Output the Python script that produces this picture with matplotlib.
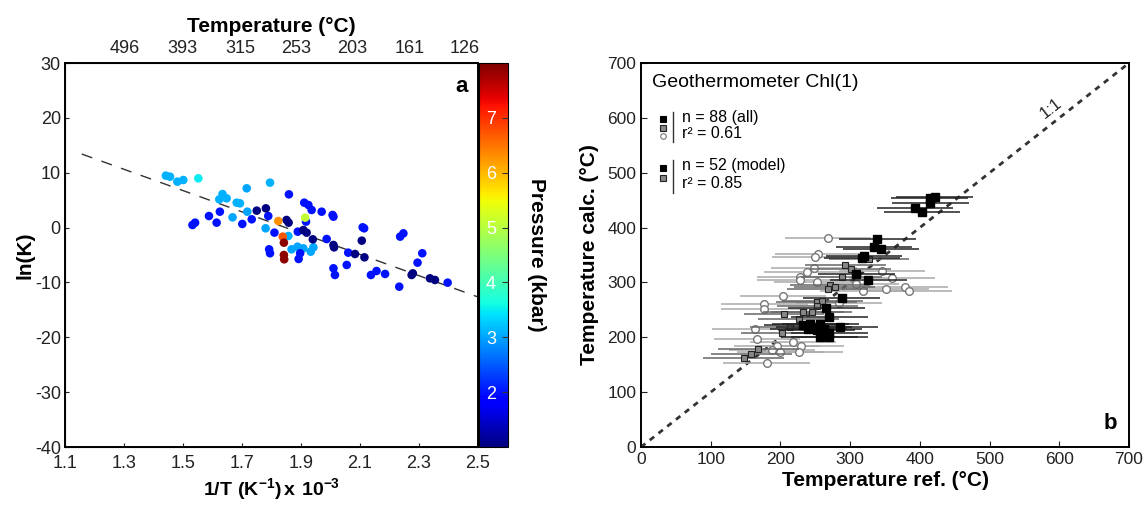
import matplotlib

matplotlib.use("Agg")
import matplotlib.pyplot as plt
import numpy as np

plt.rcParams["font.family"] = ["Liberation Sans", "DejaVu Sans"]
plt.rcParams["axes.unicode_minus"] = False
plt.rcParams["mathtext.fontset"] = "custom"
plt.rcParams["mathtext.rm"] = "Liberation Sans"
plt.rcParams["mathtext.bf"] = "Liberation Sans:bold"

# ---- panel a: ln(K) vs 1/T, coloured by pressure -----------------------------
inv_t = [1.442, 1.456, 1.481, 1.501, 1.552, 1.716, 1.795, 1.634, 1.623, 1.648,
         1.682, 1.693, 1.718, 1.668, 1.780, 1.857, 1.868, 1.888, 1.908, 1.933,
         1.942,
         1.532, 1.541, 1.588, 1.614, 1.625, 1.701, 1.733, 1.789, 1.810, 1.792,
         1.795, 1.859, 1.911, 1.925, 1.936, 1.970, 2.007, 2.010, 1.917, 1.889,
         1.892, 1.897, 1.987, 2.010, 2.015, 2.055, 2.060, 2.109, 2.114, 2.137,
         2.156, 2.185, 2.236, 2.247, 2.233, 2.295, 2.311, 2.397,
         1.750, 1.781, 1.851, 1.858, 1.908, 1.919, 1.940, 2.010, 2.012, 2.083,
         2.106, 2.115, 2.275, 2.279, 2.337, 2.354,
         1.823, 1.838, 1.842, 1.842, 1.843, 1.914]
ln_k = [9.47, 9.28, 8.37, 8.67, 8.98, 7.16, 8.19, 6.12, 5.15, 5.33,
        4.54, 4.42, 2.90, 1.87, -0.13, -1.53, -3.96, -3.48, -3.78, -4.39,
        -3.60,
        0.47, 0.90, 2.11, 0.90, 2.90, 0.66, 1.51, 2.11, -0.92, -3.96,
        -4.68, 6.06, 4.54, 4.12, 3.21, 2.90, 2.30, 1.99, 1.08, -0.74,
        -5.72, -4.68, -2.08, -7.42, -8.64, -6.81, -4.57, 0.05, -0.13, -8.64,
        -7.91, -8.45, -1.65, -1.05, -10.77, -6.39, -4.68, -10.04,
        3.09, 3.51, 1.39, 0.90, -0.44, -0.92, -2.14, -3.17, -3.60, -4.81,
        -2.38, -5.42, -8.64, -8.34, -9.25, -9.55,
        1.20, -1.65, -2.75, -4.99, -5.78, 1.81]
pressure = [3.1, 3.1, 3.1, 3.1, 3.5, 3.0, 3.1, 3.1, 3.1, 3.1,
            3.1, 3.1, 3.0, 3.0, 3.0, 3.1, 3.0, 3.0, 3.0, 3.0,
            3.0,
            2.0, 2.0, 2.0, 2.0, 2.0, 2.0, 2.0, 2.0, 2.0, 2.0,
            2.0, 2.0, 2.0, 2.0, 2.0, 2.0, 2.0, 2.0, 2.0, 2.0,
            2.0, 2.0, 2.0, 2.0, 2.0, 2.0, 2.0, 2.0, 2.0, 2.0,
            2.0, 2.0, 2.0, 2.0, 2.0, 2.0, 2.0, 2.0,
            1.0, 1.0, 1.0, 1.0, 1.0, 1.0, 1.0, 1.0, 1.0, 1.0,
            1.0, 1.0, 1.0, 1.0, 1.0, 1.0,
            6.3, 6.7, 7.9, 7.9, 7.9, 5.1]
fit_intercept, fit_slope = 35.85, -19.4
top_ticks = [1.303, 1.499, 1.693, 1.885, 2.075, 2.27, 2.456]
top_labels = ["496", "393", "315", "253", "203", "161", "126"]

# ---- panel b: calculated vs reference temperature ---------------------------
black_ref = [414, 421, 415, 393, 403, 339, 334, 344, 320, 317, 309, 326, 288,
             266, 270, 257, 243, 248, 252, 262, 285, 256, 270, 270, 240, 232]
black_calc = [454, 456, 444, 436, 429, 379, 365, 361, 348, 345, 316, 304, 272,
              253, 237, 224, 224, 219, 214, 216, 219, 201, 207, 201, 216, 222]
gray_ref = [327, 293, 301, 288, 271, 278, 268, 252, 260, 253, 233, 245, 226,
            214, 202, 168, 158, 147, 205]
gray_calc = [342, 332, 324, 310, 295, 292, 288, 265, 267, 257, 247, 247, 233,
             218, 207, 179, 169, 162, 243]
open_ref = [268, 254, 250, 248, 238, 228, 228, 253, 346, 360, 319, 351, 379,
            384, 204, 177, 177, 164, 166, 218, 229, 227, 195, 188, 200, 180,
            308, 284]
open_calc = [381, 352, 346, 327, 319, 310, 305, 301, 321, 309, 285, 288, 291,
             285, 275, 261, 251, 215, 197, 192, 185, 174, 184, 177, 174, 154,
             297, 263]
black_err, gray_err, open_err = 55, 58, 62

fig = plt.figure(figsize=(11.48, 5.07), dpi=100)
axA = fig.add_axes([0.0566, 0.1183, 0.3598, 0.7574])
cax = fig.add_axes([0.4173, 0.1183, 0.0253, 0.7574])
axB = fig.add_axes([0.5584, 0.1183, 0.4251, 0.7574])

# ---- A ---------------------------------------------------------------------
sc = axA.scatter(inv_t, ln_k, c=pressure, cmap="jet", vmin=1, vmax=8, s=38,
                 edgecolors="none", zorder=3)
xl = np.array([1.157, 2.5])
axA.plot(xl, fit_intercept + fit_slope * xl, color="#333333", lw=1,
         dashes=(8, 7), zorder=2)
axA.set_xlim(1.1, 2.5)
axA.set_ylim(-40, 30)
axA.set_xticks(np.arange(1.1, 2.51, 0.2))
axA.set_xticklabels([f"{v:.1f}" for v in np.arange(1.1, 2.51, 0.2)])
axA.set_yticks(range(-40, 31, 10))
axA.tick_params(direction="in", length=3, labelsize=13, colors="#222222")
axA.tick_params(axis="x", pad=6)
axA.tick_params(axis="y", pad=3)
for sp in axA.spines.values():
    sp.set_linewidth(1.4)
axA.set_xlabel(r"$\mathbf{1/T\ (K^{-1})\,x\ 10^{-3}}$", fontsize=14,
               labelpad=3)
axA.set_ylabel("ln(K)", fontsize=15, fontweight="bold", labelpad=0)
axA.text(0.975, 0.965, "a", transform=axA.transAxes, ha="right", va="top",
         fontsize=16, fontweight="bold")

top = axA.twiny()
top.set_xlim(axA.get_xlim())
top.set_xticks(top_ticks)
top.set_xticklabels(top_labels)
top.tick_params(length=0, labelsize=13, colors="#222222", pad=4)
top.set_xlabel("Temperature (°C)", fontsize=15, fontweight="bold", labelpad=6)

cb = fig.colorbar(sc, cax=cax, ticks=[2, 3, 4, 5, 6, 7])
cb.outline.set_linewidth(0.8)
cax.tick_params(direction="in", length=4, width=0.8, labelsize=13,
                labelcolor="white", pad=-16, color="#333333")
for lab in cax.get_yticklabels():
    lab.set_horizontalalignment("left")
cax.set_ylabel("Pressure (kbar)", rotation=270, fontsize=15,
               fontweight="bold", labelpad=27)

# ---- B ---------------------------------------------------------------------
axB.plot([0, 700], [0, 700], color="#333333", lw=2, dashes=(2, 2), zorder=1)
axB.text(588, 618, "1:1", rotation=38, rotation_mode="anchor", ha="center",
         va="center", fontsize=12, color="#222222")
axB.errorbar(open_ref, open_calc, xerr=open_err, fmt="o", ms=5.5, mfc="white",
             mec="#777777", mew=1, ecolor="#aaaaaa", elinewidth=1.1,
             capsize=0, zorder=2)
axB.errorbar(gray_ref, gray_calc, xerr=gray_err, fmt="s", ms=5, mfc="#888888",
             mec="#222222", mew=0.8, ecolor="#666666", elinewidth=1.1,
             capsize=0, zorder=3)
axB.errorbar(black_ref, black_calc, xerr=black_err, fmt="s", ms=5.3,
             mfc="black", mec="black", ecolor="#222222", elinewidth=1.1,
             capsize=0, zorder=4)
axB.set_xlim(0, 700)
axB.set_ylim(0, 700)
axB.set_xticks(range(0, 701, 100))
axB.set_yticks(range(0, 701, 100))
axB.tick_params(direction="in", length=4, labelsize=12.5, colors="#222222")
for sp in axB.spines.values():
    sp.set_linewidth(1.4)
axB.set_xlabel("Temperature ref. (°C)", fontsize=15, fontweight="bold",
               labelpad=3)
axB.set_ylabel("Temperature calc. (°C)", fontsize=15, fontweight="bold",
               labelpad=6)
axB.text(0.975, 0.035, "b", transform=axB.transAxes, ha="right", va="bottom",
         fontsize=16, fontweight="bold")

# legend block
tr = axB.transAxes
axB.text(0.022, 0.948, "Geothermometer Chl(1)", transform=tr, ha="left",
         va="center", fontsize=14)
for y, m, fc, ec in [(0.854, "s", "black", "black"),
                     (0.831, "s", "#888888", "#222222"),
                     (0.810, "o", "white", "#777777")]:
    axB.plot(0.045, y, m, ms=4, mfc=fc, mec=ec, mew=0.8, transform=tr,
             clip_on=False)
for y, m, fc, ec in [(0.727, "s", "black", "black"),
                     (0.701, "s", "#888888", "#222222")]:
    axB.plot(0.045, y, m, ms=4, mfc=fc, mec=ec, mew=0.8, transform=tr,
             clip_on=False)
axB.plot([0.066, 0.066], [0.794, 0.872], color="#333333", lw=1, transform=tr)
axB.plot([0.066, 0.066], [0.661, 0.747], color="#333333", lw=1, transform=tr)
axB.text(0.084, 0.857, "n = 88 (all)", transform=tr, va="center", fontsize=11.5)
axB.text(0.084, 0.816, "r² = 0.61", transform=tr, va="center", fontsize=11.5)
axB.text(0.084, 0.732, "n = 52 (model)", transform=tr, va="center",
         fontsize=11.5)
axB.text(0.084, 0.685, "r² = 0.85", transform=tr, va="center", fontsize=11.5)

fig.savefig("out.png", dpi=100)
